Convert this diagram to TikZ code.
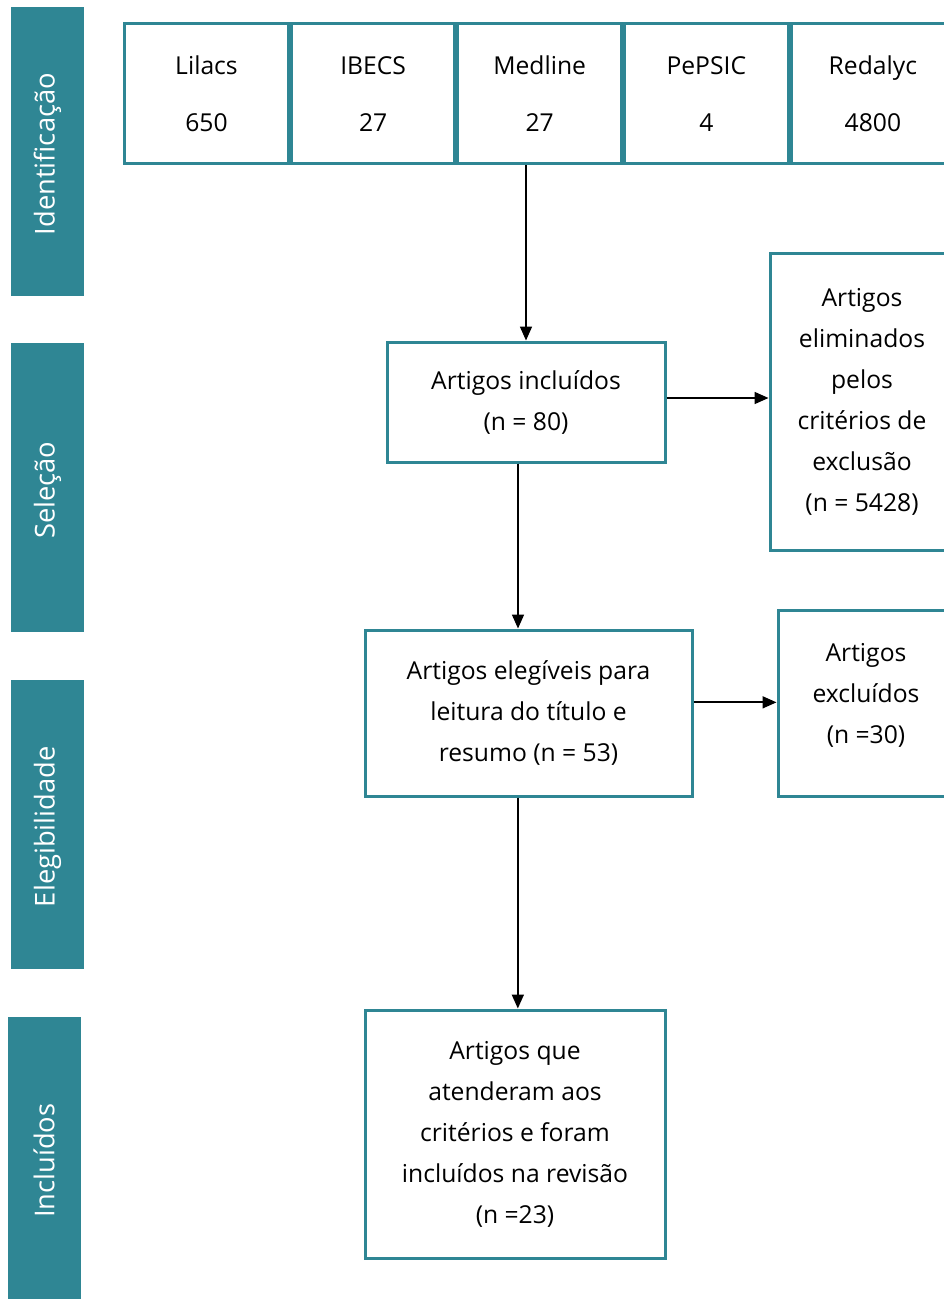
\documentclass[tikz,border=0pt]{standalone}
\usepackage{fontspec}
\setmainfont{Open Sans}
\usepackage{xcolor}
\usetikzlibrary{positioning,arrows.meta}
\definecolor{teal1}{HTML}{2F8694}

\begin{document}
\begin{tikzpicture}[x=0.75pt,y=-0.75pt,font=\fontsize{18.5}{30.75}\selectfont]
  \tikzstyle{db}=[draw=teal1,line width=2.25pt,minimum width=122.8pt,minimum height=105pt,inner sep=0pt,align=center]
  \tikzstyle{k}=[draw=teal1,line width=2.25pt,inner sep=2pt,align=center]
  \tikzstyle{ph}=[fill=teal1,minimum width=54.75pt,minimum height=216.75pt,inner sep=0pt]
  \tikzstyle{arr}=[line width=1.3pt,-{Triangle[length=10.5pt,width=9pt]}]
  \useasboundingbox (0,0) rectangle (943,1299);
  % phases
  \node[ph] (fid) at (47.5,151.5) {};
  \node[ph] (fsel) at (47.5,487.5) {};
  \node[ph] (fele) at (47.5,824) {};
  \node[ph,minimum height=211.5pt] (finc) at (44,1158) {};
  \foreach \p/\t in {fid/Identificação,fsel/Seleção,fele/Elegibilidade,finc/Incluídos}
    \node[rotate=90,text=white,xshift=-2pt,font=\fontsize{20.5}{24}\selectfont] at (\p) {\t};
  % sources
  \foreach \n/\v [count=\i] in {Lilacs/650,IBECS/27,Medline/27,PePSIC/4,Redalyc/4800}
    \node[db] (s\i) at ({206.5+(\i-1)*166.6},93.5) {\rule{0pt}{18.6pt}\vphantom{y}\n\\[12pt]\vphantom{Ly}\v};
  % flow
  \node[k,minimum width=208.5pt,minimum height=90pt] (inc) at (526,402) {Artigos incluídos\\(n = 80)};
  \node[k,minimum width=138pt,minimum height=222.75pt] (elim) at (862,401.5) {Artigos\\eliminados\\pelos\\critérios de\\exclusão\\(n = 5428)};
  \node[k,minimum width=245.25pt,minimum height=124.5pt] (ele) at (528.5,713) {Artigos elegíveis para\\leitura do título e\\resumo (n = 53)};
  \node[k,minimum width=132pt,minimum height=139.5pt] (exc) at (866,703) {Artigos\\excluídos\\(n =30)\rule[-15pt]{0pt}{15pt}};
  \node[k,minimum width=225pt,minimum height=186pt] (rev) at (515,1134) {Artigos que\\atenderam aos\\critérios e foram\\incluídos na revisão\\(n =23)};
  \draw[arr] (s3.south -| inc.north) -- (inc.north);
  \draw[arr] ([yshift=3pt]inc.east) -- ([yshift=3pt]inc.east -| elim.west);
  \draw[arr] ([xshift=-6pt]inc.south) -- ([xshift=-6pt]inc.south |- ele.north);
  \draw[arr] ([yshift=8pt]ele.east) -- ([yshift=8pt]ele.east -| exc.west);
  \draw[arr] ([xshift=-8pt]ele.south) -- ([xshift=-8pt]ele.south |- rev.north);
\end{tikzpicture}
\end{document}
